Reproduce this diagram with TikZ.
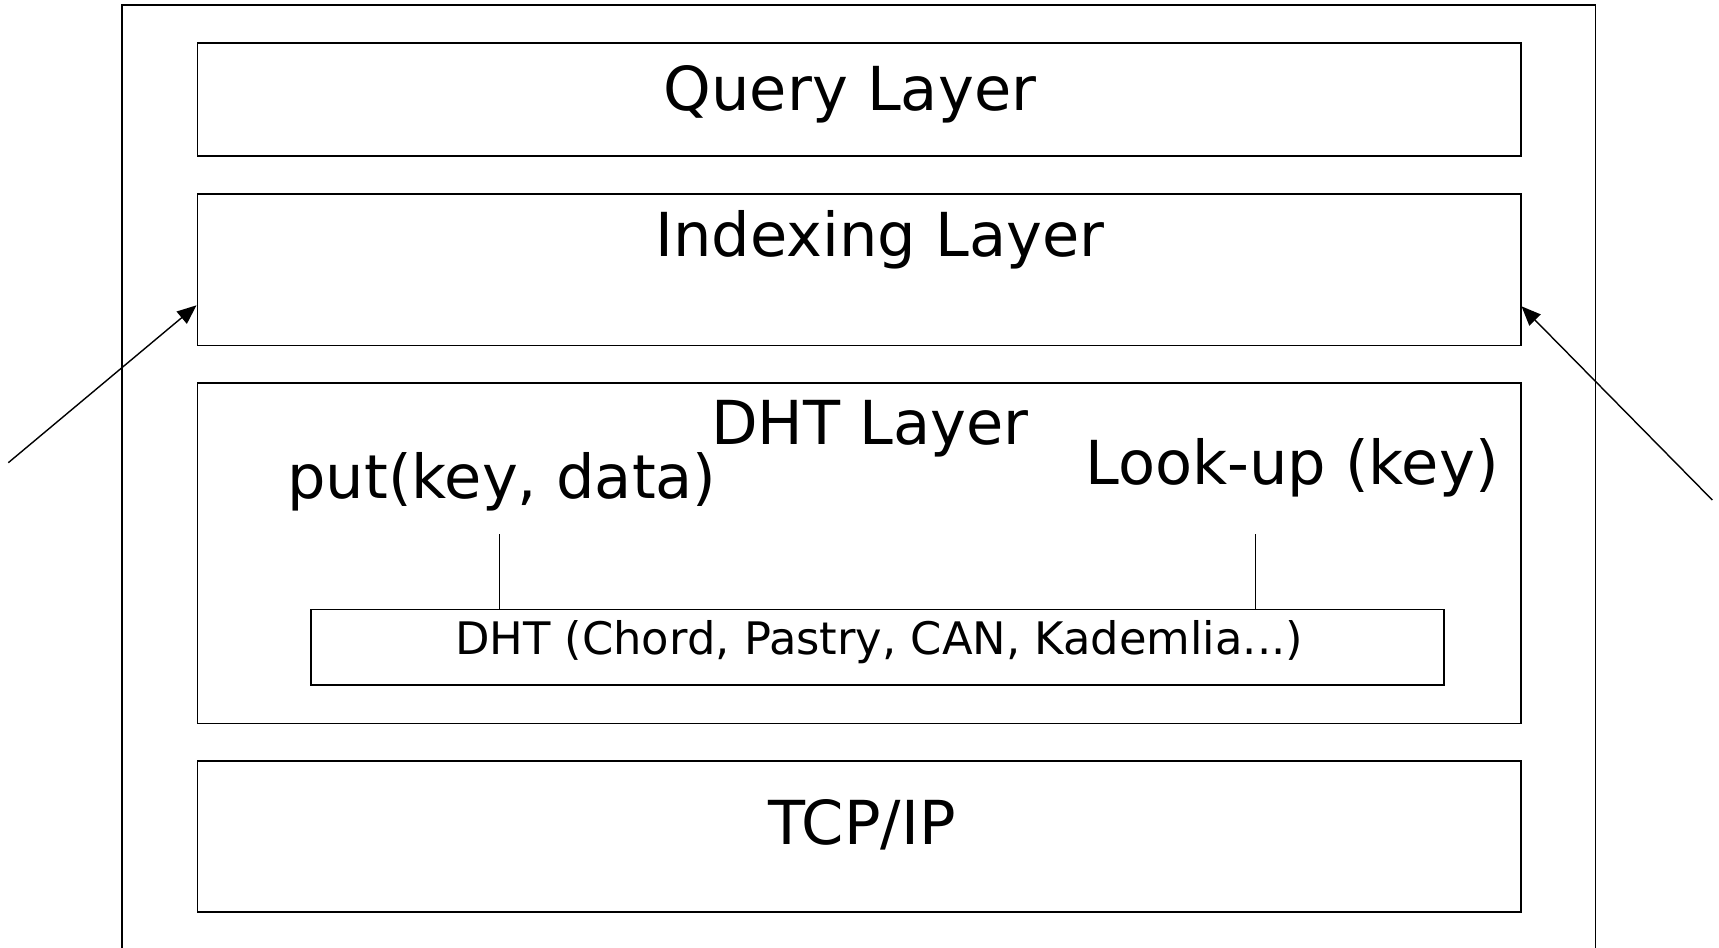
\documentclass[tikz,border=0pt]{standalone}
\usepackage{fontspec}
\setmainfont{DejaVu Sans}
\usetikzlibrary{positioning, calc, arrows.meta}

\begin{document}
\begin{tikzpicture}[x=0.02cm, y=-0.02cm,
    layer/.style={draw, line width=1pt, rectangle, inner sep=0pt},
    biglabel/.style={anchor=base, inner sep=0pt, font=\fontsize{34.5}{40}\selectfont},
    smalllabel/.style={anchor=base, inner sep=0pt, font=\fontsize{25.5}{30}\selectfont}]
            \useasboundingbox (0,0) rectangle (1719,947);
            \draw (858.7,502.5) node[layer, minimum width=29.48cm, minimum height=19.9cm] (node) {};
            \draw (859,99.2) node[layer, minimum width=26.47cm, minimum height=2.26cm] (query) {};
            \draw (859,269.7) node[layer, minimum width=26.47cm, minimum height=3.03cm] (indexing) {};
            \draw (859,553.3) node[layer, minimum width=26.47cm, minimum height=6.81cm] (dht) {};
            \draw (859,836.6) node[layer, minimum width=26.47cm, minimum height=3.03cm] (tcp) {};
            \draw (877.4,647.2) node[layer, minimum width=22.67cm, minimum height=1.51cm] (dhtimpl) {};
            \draw (850,110.7) node[biglabel] (querytext) {Query Layer};
            \draw (880,256.5) node[biglabel] (indexingtext) {Indexing Layer};
            \draw (870,444) node[biglabel] (dhttext) {DHT Layer};
            \draw (502,498.8) node[biglabel] (put) {put(key, data)};
            \draw (1292,484.6) node[biglabel] (lookup) {Look-up (key)};
            \draw (879,654.5) node[smalllabel] (dhtimpltext) {DHT (Chord, Pastry, CAN, Kademlia...)};
            \draw (862,844) node[biglabel] (tcptext) {TCP/IP};
            \coordinate (putend) at (499.3,534.3);
            \coordinate (lookupend) at (1255.7,534.3);
            \coordinate (leftin) at (8.3,462.7);
            \coordinate (rightin) at (1712.3,500);
            \path[line width=0.8pt]
            (putend) edge (putend |- dhtimpl.north)
            (lookupend) edge (lookupend |- dhtimpl.north);
            \path[line width=0.8pt, -{Triangle[length=11pt,width=9pt]}]
            (leftin) edge ($(indexing.south west)+(0,-41)$)
            (rightin) edge ($(indexing.south east)+(0,-40)$);
        \end{tikzpicture}
\end{document}
